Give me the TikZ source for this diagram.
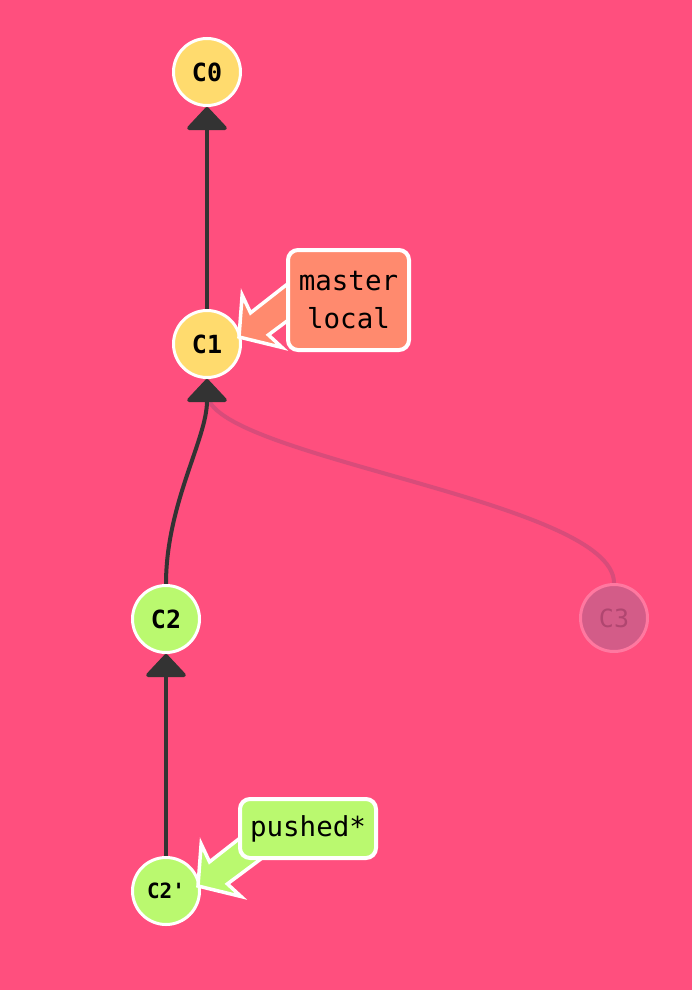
\documentclass[tikz,border=0pt]{standalone}
\usepackage{fontspec}
\newfontfamily\gitmono{DejaVu Sans Mono}
\usetikzlibrary{arrows.meta,calc}
\definecolor{bgpink}{HTML}{FF4F7E}
\definecolor{cyellow}{HTML}{FFDB6E}
\definecolor{cgreen}{HTML}{BAF96F}
\definecolor{csalmon}{HTML}{FF8A6E}
\definecolor{cdark}{HTML}{333333}
\definecolor{fadeline}{HTML}{D84C7A}
\definecolor{fadefill}{HTML}{D35C88}
\definecolor{fadestroke}{HTML}{FF78A0}
\definecolor{fadetext}{HTML}{B04670}
\pgfdeclarelayer{bg}
\pgfsetlayers{bg,main}
\tikzset{
  commit/.style={circle, draw=white, line width=3pt, minimum size=67pt, inner sep=0pt,
    font=\gitmono\bfseries\fontsize{25}{25}\selectfont},
  yellowc/.style={commit, fill=cyellow},
  greenc/.style={commit, fill=cgreen},
  fadec/.style={commit, fill=fadefill, draw=fadestroke, text=fadetext, font=\gitmono\fontsize{25}{25}\selectfont},
  parent/.style={draw=cdark, line width=4pt, -{Triangle[length=24pt,width=44pt,round]}},
  fadeedge/.style={draw=fadeline, line width=4pt},
  tagbox/.style={rectangle, draw=white, line width=4pt, rounded corners=10pt, inner sep=0pt,
    font=\gitmono\fontsize{27.5}{38}\selectfont, align=center},
  fatarrow/.style={draw=white, line width=3.5pt, line join=miter}
}
\begin{document}
\begin{tikzpicture}[x=1pt,y=-1pt]
\begin{pgfonlayer}{bg}
\fill[bgpink] (0,0) rectangle (692,990);
\end{pgfonlayer}
\useasboundingbox (0,0) rectangle (692,990);

% commits
\node[yellowc] (C0) at (207,72) {C0};
\node[yellowc] (C1) at (207,344) {C1};
\node[greenc] (C2) at (166,619) {C2};
\node[greenc, font=\gitmono\bfseries\fontsize{21}{21}\selectfont] (C2p) at (166,891) {C2'};
\node[fadec] (C3) at (614,618) {C3};

% edges
\begin{pgfonlayer}{bg}
\draw[fadeedge] (C3.north) .. controls ($(C3.north)+(0,-83)$) and ($(C1.south)+(0,78)$) .. ($(C1.south)+(0,14)$);
\draw[parent] (C2.north) .. controls ($(C2.north)+(0,-80)$) and ($(C1.south)+(0,60)$) .. (C1.south);
\draw[parent] (C1.north) -- (C0.south);
\draw[parent] (C2p.north) -- (C2.south);
\end{pgfonlayer}

% tag pointers
\fill[csalmon, fatarrow, shift={($(C1.center)+(32,-7)$)}, scale=1.05]
  (0,0) -- (3,-40) -- (11,-23) -- (66,-66) -- (83,-43) -- (28,-2) -- (41,10) -- cycle;
\fill[cgreen, fatarrow, shift={($(C2p.center)+(32,-5)$)}, scale=1.05]
  (0,0) -- (3,-40) -- (11,-23) -- (66,-66) -- (83,-43) -- (28,-2) -- (41,10) -- cycle;

% tags
\node[tagbox, fill=csalmon, minimum width=121pt, minimum height=100pt] (master) at (348.5,300) {master\\local};
\node[tagbox, fill=cgreen, minimum width=136pt, minimum height=59pt] (pushed) at (308,828.5) {pushed*};
\end{tikzpicture}
\end{document}
